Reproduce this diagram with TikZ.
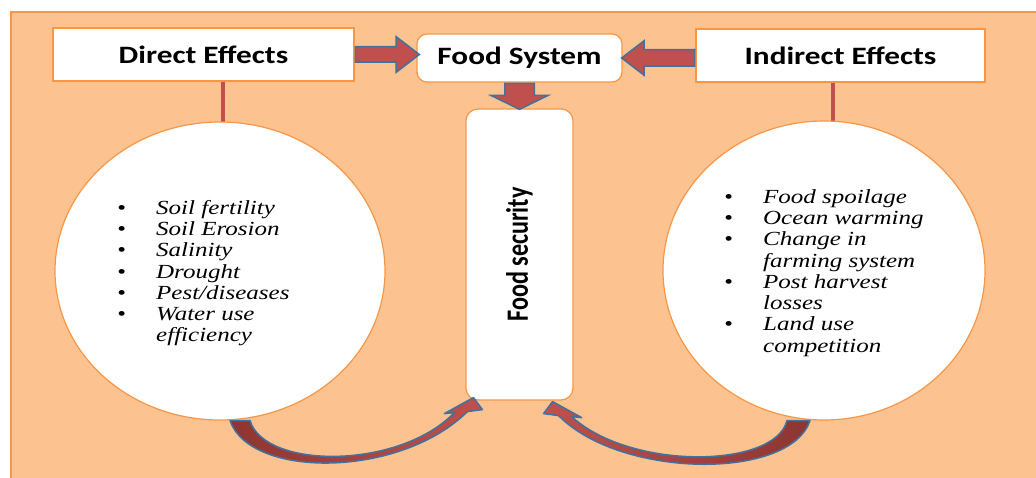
\documentclass[tikz,border=0pt]{standalone}
\usepackage{fontspec}
\usepackage{tikz}
\usetikzlibrary{positioning,arrows.meta,calc,shapes.geometric,shapes.arrows}
\newfontfamily\boxfont[FakeStretch=1.25]{Carlito}
\newfontfamily\sidefont[FakeStretch=0.78]{Carlito}
\newfontfamily\listfont[FakeStretch=1.25]{Liberation Serif}
\definecolor{peach}{HTML}{FCC391}
\definecolor{edgeorange}{HTML}{F79646}
\definecolor{arrowred}{HTML}{C0504D}
\definecolor{arrowdark}{HTML}{8C3532}
\definecolor{arrowblue}{HTML}{41719C}

\begin{document}
\begin{tikzpicture}[
  x=1pt, y=-1pt,
  panel/.style={draw=edgeorange, line width=1.5pt, fill=peach},
  effect/.style={rectangle, draw=edgeorange, line width=1.2pt, fill=white,
                 minimum height=53pt, inner sep=0,
                 font=\boxfont\bfseries\fontsize{25}{30}\selectfont},
  hub/.style={effect, rounded corners=10pt},
  bubble/.style={ellipse, draw=edgeorange, line width=1.2pt, fill=white, inner sep=0},
  % the bullet lists, set as two-column tables
  items/.style={anchor=north west, inner sep=0,
                font=\listfont\itshape\fontsize{20}{21.3}\selectfont},
  % the shaft is half inner ysep on each side, the head adds the extend
  blockarrow/.style={single arrow, draw=arrowblue, line width=1.5pt, fill=arrowred,
                     inner xsep=0, single arrow head indent=0pt},
  stem/.style={draw=arrowred, line width=4pt},
  swoop/.style={draw=arrowblue, line width=1.5pt, line join=round}
]
\useasboundingbox (0,0) rectangle (1036,478);

% ══ background panel ══════════════════════════════════════════════════════
\draw[panel] (11,12) rectangle (1040,482);

% ══ top row ═══════════════════════════════════════════════════════════════
\node[effect, minimum width=301pt] (direct) at (203.5,54.5) {Direct Effects};
\node[effect, minimum width=289pt] (indirect) at (840.5,55.5) {Indirect Effects};
\node[hub, minimum width=205pt, minimum height=48pt] (system) at (519.5,58) {Food System};

% ══ centre column ═════════════════════════════════════════════════════════
\node[hub, rounded corners=12pt, minimum width=107pt, minimum height=291pt,
      font=\sidefont\bfseries\fontsize{31}{36}\selectfont]
  (security) at (519.5,254.5) {\rotatebox{90}{Food security}};

% ══ the two bubbles ═══════════════════════════════════════════════════════
% stems first, so the bubbles cover their lower ends
\coordinate (dstem) at ($(direct.south)+(19.5,0)$);
\coordinate (istem) at ($(indirect.south)+(-7.5,0)$);
\draw[stem] (dstem) -- ++(0,45);
\draw[stem] (istem) -- ++(0,45);

\node[bubble, minimum width=330pt, minimum height=298pt] (dcirc) at (220,271) {};
\node[bubble, minimum width=322pt, minimum height=299pt] (icirc) at (824,270.5) {};

\node[items] (dlist) at (117,199) {%
  \begin{tabular}{@{}p{39pt}@{}l@{}}
  \textbullet & Soil fertility\\
  \textbullet & Soil Erosion\\
  \textbullet & Salinity\\
  \textbullet & Drought\\
  \textbullet & Pest/diseases\\
  \textbullet & Water use\\
              & efficiency
  \end{tabular}};
\node[items] (ilist) at (724,188) {%
  \begin{tabular}{@{}p{39pt}@{}l@{}}
  \textbullet & Food spoilage\\
  \textbullet & Ocean warming\\
  \textbullet & Change in\\
              & farming system\\
  \textbullet & Post harvest\\
              & losses\\
  \textbullet & Land use\\
              & competition
  \end{tabular}};

% ══ block arrows into the food system ═════════════════════════════════════
\node[blockarrow, inner ysep=7pt, minimum height=64pt, minimum width=34pt,
      single arrow head extend=10pt, single arrow tip angle=75, anchor=tail]
  (toward) at (direct.east) {};
\node[blockarrow, rotate=180, inner ysep=7.5pt, minimum height=73pt, minimum width=34pt,
      single arrow head extend=9pt, single arrow tip angle=75, anchor=tail]
  (back) at (indirect.west |- system.east) {};
\node[blockarrow, rotate=-90, inner ysep=14pt, minimum height=26pt, minimum width=57pt,
      single arrow head extend=14pt, single arrow tip angle=128, anchor=tail]
  (down) at (system.south) {};

% ══ curved arrows from the bubbles up to food security ════════════════════
\coordinate (dout) at ($(dcirc.south)+(10,0)$);
\coordinate (din)  at ($(dcirc.south)+(30,0)$);
\coordinate (dtip) at ($(security.south west)+(8,-3)$);
\shadedraw[swoop, left color=arrowdark, right color=arrowred]
  (dout) .. controls ($(dout)+(20,58)$) and ($(dtip)+(-74,81)$) .. ($(dtip)+(-6,14)$)
  -- ($(dtip)+(9,12)$) -- (dtip) -- ($(dtip)+(-29,16)$) -- ($(dtip)+(-19,15)$)
  .. controls ($(dtip)+(-74,72)$) and ($(din)+(15,49)$) .. (din) -- cycle;

\coordinate (iout) at ($(icirc.south)+(-14,0)$);
\coordinate (iin)  at ($(icirc.south)+(-37,0)$);
\coordinate (itip) at ($(security.south east)+(-21,1)$);
\shadedraw[swoop, left color=arrowred, right color=arrowdark]
  (iout) .. controls ($(iout)+(-20,60)$) and ($(itip)+(68,77)$) .. ($(itip)+(6,14)$)
  -- ($(itip)+(-9,12)$) -- (itip) -- ($(itip)+(29,16)$) -- ($(itip)+(19,15)$)
  .. controls ($(itip)+(78,69)$) and ($(iin)+(-12,48)$) .. (iin) -- cycle;

\end{tikzpicture}
\end{document}
